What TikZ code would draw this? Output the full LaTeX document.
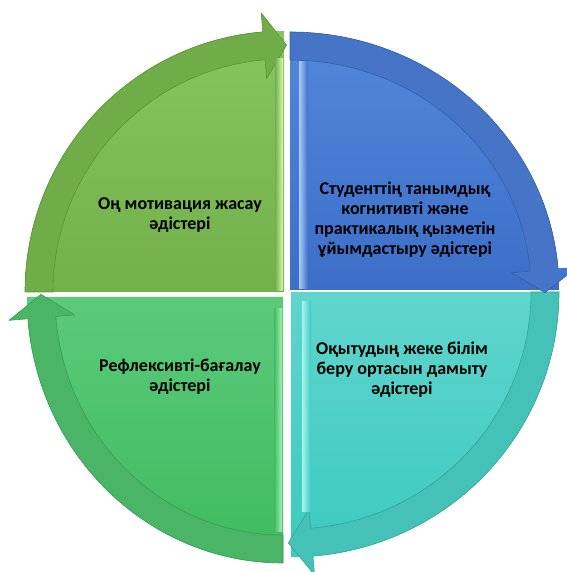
\documentclass[tikz,border=0pt]{standalone}
\usepackage{fontspec}
\setmainfont{Carlito}

\definecolor{toptl}{HTML}{88C460}
\definecolor{filltl}{HTML}{72B04A}
\definecolor{ringtl}{HTML}{70AC47}
\definecolor{rimtl}{HTML}{5C9438}
\definecolor{hltl}{HTML}{DDF7B0}
\definecolor{toptr}{HTML}{5288DA}
\definecolor{filltr}{HTML}{3C6EC8}
\definecolor{ringtr}{HTML}{4675C8}
\definecolor{rimtr}{HTML}{3360B0}
\definecolor{hltr}{HTML}{A9CCF7}
\definecolor{topbr}{HTML}{5FD5CD}
\definecolor{fillbr}{HTML}{3CCABF}
\definecolor{ringbr}{HTML}{45C1B7}
\definecolor{rimbr}{HTML}{33A69D}
\definecolor{hlbr}{HTML}{A8F5F0}
\definecolor{topbl}{HTML}{5BC97B}
\definecolor{fillbl}{HTML}{3EBB5E}
\definecolor{ringbl}{HTML}{4AB467}
\definecolor{rimbl}{HTML}{3A9E54}
\definecolor{hlbl}{HTML}{A8F0BA}

\tikzset{
  ringline/.style={line width=0.6pt, line join=round},
  quadtext/.style={font=\bfseries\fontsize{18}{20}\selectfont, align=center, text=black}
}

\begin{document}
\begin{tikzpicture}[x=1pt, y=1pt]
  \useasboundingbox (0,0) rectangle (566,572);

  % Quadrants (corner x / corner y / start angle / x radius / y radius / colour)
  \foreach \cx/\cy/\sa/\rx/\ry/\q in {283/275/-90/256/266/bl, 291/280/0/268/265/br,
                                      290/282/90/269/258/tr, 284/280/180/259/261/tl}{
    \pgfmathsetmacro\ea{\sa-90}
    \pgfmathsetmacro\ha{\sa-85.3}
    \pgfmathsetmacro\tipa{\sa-90.6}
    \pgfmathsetmacro\rxi{\rx-28}
    \pgfmathsetmacro\ryi{\ry-28}
    \pgfmathsetmacro\rxo{\rx+19}
    \pgfmathsetmacro\ryo{\ry+19}
    \pgfmathsetmacro\rxb{\rx-47}
    \pgfmathsetmacro\ryb{\ry-47}
    \pgfmathsetmacro\rxm{\rx-14}
    \pgfmathsetmacro\rym{\ry-14}
    \begin{scope}[shift={(\cx,\cy)}]
      % sector
      \shade[top color=top\q, bottom color=fill\q]
        (0,0) -- (\sa:\rx pt and \ry pt)
        arc[start angle=\sa, end angle=\ea, x radius=\rx pt, y radius=\ry pt] -- cycle;
      % curved arrow
      \filldraw[ringline, fill=ring\q, draw=rim\q]
        (\sa:\rx pt and \ry pt)
        arc[start angle=\sa, end angle=\ha, x radius=\rx pt, y radius=\ry pt]
        -- (\ha:\rxo pt and \ryo pt) -- (\tipa:\rxm pt and \rym pt)
        -- (\ha:\rxb pt and \ryb pt) -- (\ha:\rxi pt and \ryi pt)
        arc[start angle=\ha, end angle=\sa, x radius=\rxi pt, y radius=\ryi pt] -- cycle;
    \end{scope}
  }

  % Bevel highlights
  \shade[left color=filltl, right color=hltl] (275,281) rectangle (283,513);
  \shade[left color=hltr, right color=filltr] (299,283) rectangle (308,510);
  \shade[left color=hlbr, right color=fillbr] (302,60) rectangle (311,270);
  \shade[left color=fillbl, right color=hlbl] (274,40) rectangle (282,263);

  % Texts
  \node[quadtext] (motiv) at (180,357) {Оң мотивация жасау\\әдістері};
  \node[quadtext] (student) at (405,352) {Студенттің танымдық\\когнитивті және\\практикалық қызметін\\ұйымдастыру әдістері};
  \node[quadtext] (orta) at (402,202) {Оқытудың жеке білім\\беру ортасын дамыту\\әдістері};
  \node[quadtext] (reflex) at (180,195) {Рефлексивті-бағалау\\әдістері};
\end{tikzpicture}
\end{document}
